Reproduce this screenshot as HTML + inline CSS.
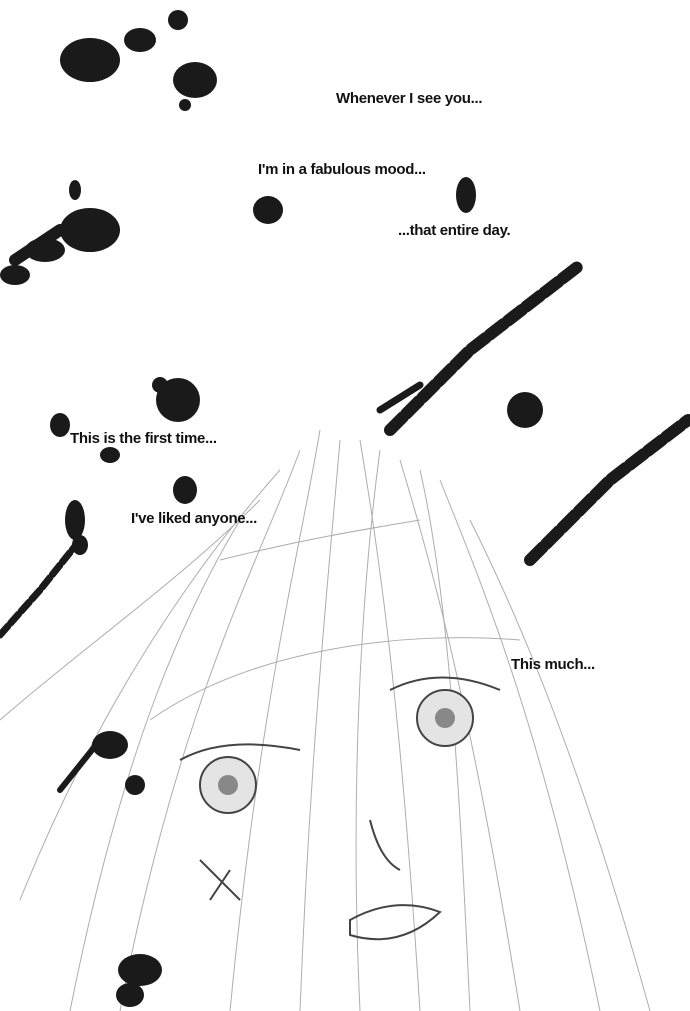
<!DOCTYPE html>
<html><head><meta charset="utf-8"><style>
html,body{margin:0;padding:0;background:#fff}
#w{position:relative;width:690px;height:1011px;overflow:hidden;background:#fff}
.t{position:absolute;font-family:"Comic Sans MS","Liberation Sans",sans-serif;font-weight:bold;font-size:15px;color:#111;white-space:nowrap;letter-spacing:-0.3px}
svg{position:absolute;left:0;top:0}
</style></head><body><div id="w">
<svg width="690" height="1011" viewBox="0 0 690 1011">
<g stroke="#999" stroke-width="1" fill="none" opacity="0.8">
<path d="M320 430 C300 550 260 700 230 1011"/><path d="M340 440 C330 560 310 750 300 1011"/>
<path d="M300 450 C260 560 180 700 120 1011"/><path d="M280 470 C200 560 100 700 20 900"/>
<path d="M260 500 C180 580 80 650 0 720"/><path d="M360 440 C380 560 400 700 420 1011"/>
<path d="M400 460 C430 560 470 700 520 1011"/><path d="M440 480 C480 580 540 720 600 1011"/>
<path d="M470 520 C520 620 580 760 650 1011"/><path d="M380 450 C360 600 350 800 360 1011"/>
<path d="M240 520 C180 620 120 760 70 1011"/><path d="M420 470 C450 600 460 800 470 1011"/>
<path d="M150 720 C250 650 400 630 520 640"/><path d="M220 560 C300 540 360 530 420 520"/>
</g>
<g stroke="#444" fill="none" stroke-width="2">
<path d="M180 760 Q225 735 300 750"/><path d="M390 690 Q440 665 500 690"/>
<path d="M370 820 Q380 860 400 870"/><path d="M350 920 Q395 895 440 912 Q400 950 350 935Z"/>
<path d="M200 860 L240 900 M230 870 L210 900"/>
</g>
<circle cx="228" cy="785" r="28" fill="#e4e4e4" stroke="#444" stroke-width="2"/><circle cx="228" cy="785" r="10" fill="#888"/>
<circle cx="445" cy="718" r="28" fill="#e4e4e4" stroke="#444" stroke-width="2"/><circle cx="445" cy="718" r="10" fill="#888"/>
<g fill="#1a1a1a">
<ellipse cx="90" cy="60" rx="30" ry="22"/><ellipse cx="140" cy="40" rx="16" ry="12"/><ellipse cx="178" cy="20" rx="10" ry="10"/>
<ellipse cx="195" cy="80" rx="22" ry="18"/><ellipse cx="185" cy="105" rx="6" ry="6"/>
<ellipse cx="90" cy="230" rx="30" ry="22"/><ellipse cx="45" cy="250" rx="20" ry="12"/><ellipse cx="15" cy="275" rx="15" ry="10"/>
<ellipse cx="75" cy="190" rx="6" ry="10"/>
<ellipse cx="268" cy="210" rx="15" ry="14"/><ellipse cx="466" cy="195" rx="10" ry="18"/>
<ellipse cx="178" cy="400" rx="22" ry="22"/><ellipse cx="160" cy="385" rx="8" ry="8"/>
<ellipse cx="60" cy="425" rx="10" ry="12"/><ellipse cx="110" cy="455" rx="10" ry="8"/>
<ellipse cx="185" cy="490" rx="12" ry="14"/>
<ellipse cx="75" cy="520" rx="10" ry="20"/><ellipse cx="80" cy="545" rx="8" ry="10"/>
<ellipse cx="525" cy="410" rx="18" ry="18"/>
<ellipse cx="110" cy="745" rx="18" ry="14"/><ellipse cx="135" cy="785" rx="10" ry="10"/>
<ellipse cx="140" cy="970" rx="22" ry="16"/><ellipse cx="130" cy="995" rx="14" ry="12"/>
</g>
<g stroke="#1a1a1a" stroke-linecap="round" fill="none">
<path d="M390 430 L470 350 L580 265" stroke-width="12" stroke-dasharray="18 5"/>
<path d="M380 410 L420 385" stroke-width="7"/>
<path d="M530 560 L610 480 L688 420" stroke-width="12" stroke-dasharray="18 5"/>
<path d="M0 635 L40 590 L80 540" stroke-width="7" stroke-dasharray="12 4"/>
<path d="M15 260 L60 230" stroke-width="12"/>
<path d="M60 790 L100 740" stroke-width="6"/>
</g>
</svg>
<div class="t" style="left:336px;top:90px">Whenever I see you...</div>
<div class="t" style="left:258px;top:161px">I'm in a fabulous mood...</div>
<div class="t" style="left:398px;top:222px">...that entire day.</div>
<div class="t" style="left:70px;top:430px">This is the first time...</div>
<div class="t" style="left:131px;top:510px">I've liked anyone...</div>
<div class="t" style="left:511px;top:656px">This much...</div>
</div></body></html>
